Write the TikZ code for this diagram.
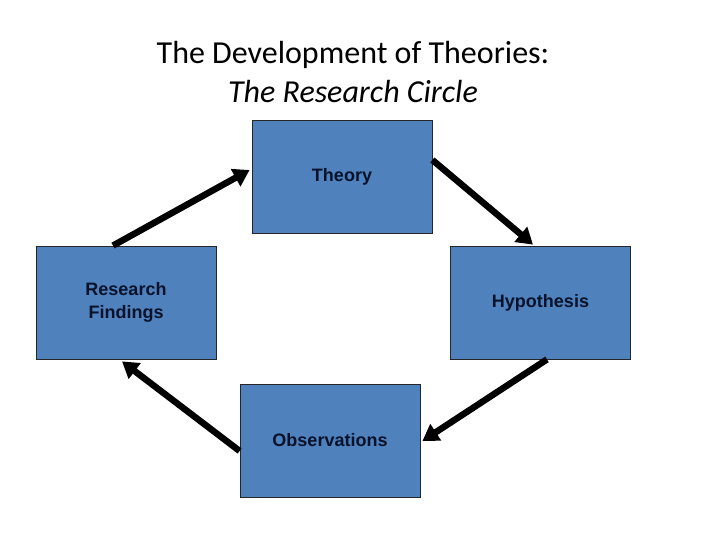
\documentclass[tikz,border=0pt]{standalone}
\usepackage{fontspec}
\setmainfont{Carlito}
\newfontfamily\boxfont{Liberation Sans}
\usetikzlibrary{calc,arrows.meta}
\definecolor{boxblue}{HTML}{4F81BD}
\definecolor{boxtext}{HTML}{08122A}
\tikzset{
	box/.style={draw=black!85, line width=0.8pt, fill=boxblue, minimum width=180pt, minimum height=113pt, inner sep=0pt, align=center, font=\boxfont\bfseries\fontsize{18}{22.5}\selectfont, text=boxtext},
	circarrow/.style={line width=6.5pt, -{Triangle[length=16pt,width=19pt]}}
}
\begin{document}
\begin{tikzpicture}[x=1pt,y=-1pt]
		\useasboundingbox (0,0) rectangle (720,540);

		\node[font=\fontsize{32}{39}\selectfont, align=center] (title) at (353,72) {The Development of Theories:\\\textit{The Research Circle}};

		\node[box] (theory) at (342,177) {Theory};
		\node[box] (findings) at (126,302.5) {Research\\Findings};
		\node[box] (hypothesis) at (540.5,302.5) {Hypothesis};
		\node[box] (observations) at (330,440.5) {Observations};

		\draw[circarrow] ($(findings.north)+(-13,0)$) -- ($(theory.west)+(-2,-7)$);
		\draw[circarrow] ($(theory.east)+(0,-17)$) -- ($(hypothesis.north)+(-7.5,-1)$);
		\draw[circarrow] ($(hypothesis.south)+(6.5,0)$) -- ($(observations.east)+(2,0.5)$);
		\draw[circarrow] ($(observations.west)+(0,10.5)$) -- ($(findings.south)+(-4,2)$);
	\end{tikzpicture}
\end{document}
